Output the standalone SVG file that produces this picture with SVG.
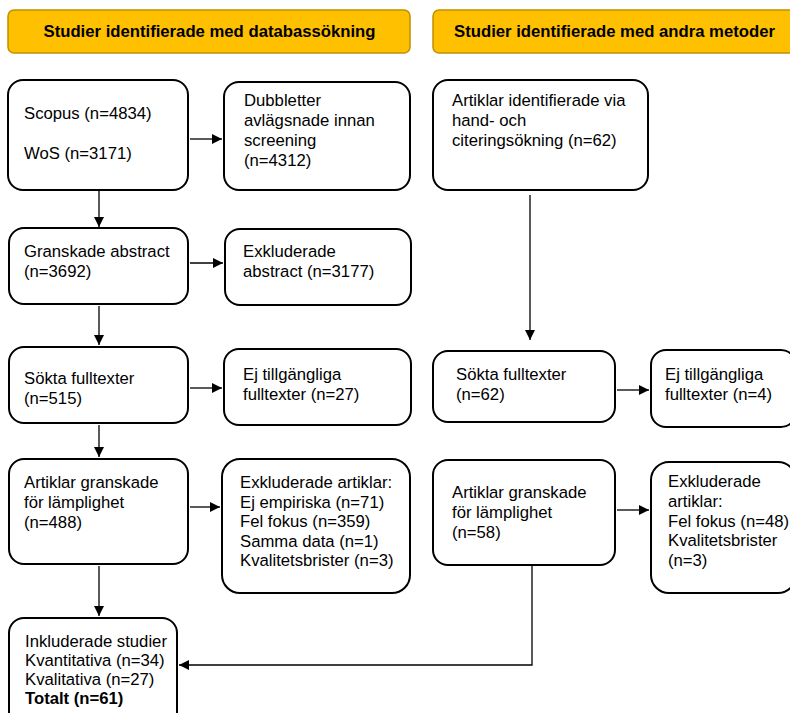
<svg xmlns="http://www.w3.org/2000/svg" width="790" height="713" viewBox="0 0 790 713">
<defs>
<marker id="ah" viewBox="0 0 10 10" refX="10" refY="5" markerWidth="10" markerHeight="10" markerUnits="userSpaceOnUse" orient="auto">
<path d="M0,0 L10,5 L0,10 z" fill="#000"/>
</marker>
<style>
.hdr{fill:#FFC000;stroke:#BF9000;stroke-width:1.5}
.ht{font-family:"Liberation Sans",Arial,sans-serif;font-size:16.7px;font-weight:bold;fill:#000;text-anchor:middle}
.box{fill:#fff;stroke:#000;stroke-width:2}
.t{font-family:"Liberation Sans",Arial,sans-serif;font-size:16.7px;fill:#000}
.c{fill:none;stroke:#000;stroke-width:1.3}
</style>
</defs>
<rect width="790" height="713" fill="#fff"/>
<g id="hdr1"><rect class="hdr" x="8" y="10" width="402" height="43" rx="6"/><text class="ht" x="209.5" y="37">Studier identifierade med databassökning</text></g>
<g id="hdr2"><rect class="hdr" x="433" y="10" width="370" height="43" rx="6"/><text class="ht" x="614.5" y="37">Studier identifierade med andra metoder</text></g>

<g id="n1"><rect class="box" x="8" y="80" width="180" height="110" rx="15"/><text class="t" x="24" y="119">Scopus (n=4834)</text><text class="t" x="24" y="159">WoS (n=3171)</text></g>
<g id="n2"><rect class="box" x="224" y="82" width="186" height="108" rx="15"/><text class="t"><tspan x="244" y="106">Dubbletter</tspan><tspan x="244" y="126">avlägsnade innan</tspan><tspan x="244" y="146">screening</tspan><tspan x="244" y="166">(n=4312)</tspan></text></g>
<g id="n3"><rect class="box" x="433" y="80" width="215" height="110" rx="15"/><text class="t"><tspan x="452" y="106">Artiklar identifierade via</tspan><tspan x="452" y="126">hand- och</tspan><tspan x="452" y="146">citeringsökning (n=62)</tspan></text></g>

<g id="n4"><rect class="box" x="9" y="228" width="179" height="76" rx="15"/><text class="t"><tspan x="24" y="257">Granskade abstract</tspan><tspan x="24" y="277">(n=3692)</tspan></text></g>
<g id="n5"><rect class="box" x="225" y="229" width="186" height="76" rx="15"/><text class="t"><tspan x="243" y="257">Exkluderade</tspan><tspan x="243" y="277">abstract (n=3177)</tspan></text></g>

<g id="n6"><rect class="box" x="9" y="347" width="179" height="76" rx="15"/><text class="t"><tspan x="24" y="384">Sökta fulltexter</tspan><tspan x="24" y="404">(n=515)</tspan></text></g>
<g id="n7"><rect class="box" x="224" y="349" width="187" height="76" rx="15"/><text class="t"><tspan x="243" y="380">Ej tillgängliga</tspan><tspan x="243" y="400">fulltexter (n=27)</tspan></text></g>
<g id="n8"><rect class="box" x="433" y="351" width="182" height="71" rx="15"/><text class="t"><tspan x="456" y="380">Sökta fulltexter</tspan><tspan x="456" y="400">(n=62)</tspan></text></g>
<g id="n9"><rect class="box" x="651" y="350" width="145" height="77" rx="15"/><text class="t"><tspan x="665" y="380">Ej tillgängliga</tspan><tspan x="665" y="400">fulltexter (n=4)</tspan></text></g>

<g id="n10"><rect class="box" x="9" y="459" width="179" height="105" rx="15"/><text class="t"><tspan x="24" y="488">Artiklar granskade</tspan><tspan x="24" y="508">för lämplighet</tspan><tspan x="24" y="528">(n=488)</tspan></text></g>
<g id="n11"><rect class="box" x="222" y="459" width="188" height="134" rx="18"/><text class="t"><tspan x="240" y="488">Exkluderade artiklar:</tspan><tspan x="240" y="508">Ej empiriska (n=71)</tspan><tspan x="240" y="527">Fel fokus (n=359)</tspan><tspan x="240" y="547">Samma data (n=1)</tspan><tspan x="240" y="566">Kvalitetsbrister (n=3)</tspan></text></g>
<g id="n12"><rect class="box" x="433" y="460" width="182" height="105" rx="15"/><text class="t"><tspan x="452" y="498">Artiklar granskade</tspan><tspan x="452" y="518">för lämplighet</tspan><tspan x="452" y="538">(n=58)</tspan></text></g>
<g id="n13"><rect class="box" x="651" y="462" width="145" height="131" rx="18"/><text class="t"><tspan x="668" y="487">Exkluderade</tspan><tspan x="668" y="507">artiklar:</tspan><tspan x="668" y="527">Fel fokus (n=48)</tspan><tspan x="668" y="546">Kvalitetsbrister</tspan><tspan x="668" y="566">(n=3)</tspan></text></g>

<g id="n14"><rect class="box" x="9" y="618" width="168" height="110" rx="15"/><text class="t"><tspan x="25" y="647">Inkluderade studier</tspan><tspan x="25" y="666">Kvantitativa (n=34)</tspan><tspan x="25" y="685">Kvalitativa (n=27)</tspan><tspan x="25" y="704" font-weight="bold">Totalt (n=61)</tspan></text></g>

<g id="connectors">
<path class="c" d="M190,139 H222" marker-end="url(#ah)"/>
<path class="c" d="M99,191 V227" marker-end="url(#ah)"/>
<path class="c" d="M190,263 H223" marker-end="url(#ah)"/>
<path class="c" d="M99,306 V345" marker-end="url(#ah)"/>
<path class="c" d="M190,388 H222" marker-end="url(#ah)"/>
<path class="c" d="M99,425 V457" marker-end="url(#ah)"/>
<path class="c" d="M190,507 H220" marker-end="url(#ah)"/>
<path class="c" d="M99,566 V616" marker-end="url(#ah)"/>
<path class="c" d="M530,195 V340" marker-end="url(#ah)"/>
<path class="c" d="M617,390 H649" marker-end="url(#ah)"/>
<path class="c" d="M617,510 H649" marker-end="url(#ah)"/>
<path class="c" d="M532,566 V665 H179" marker-end="url(#ah)"/>
</g>
</svg>
